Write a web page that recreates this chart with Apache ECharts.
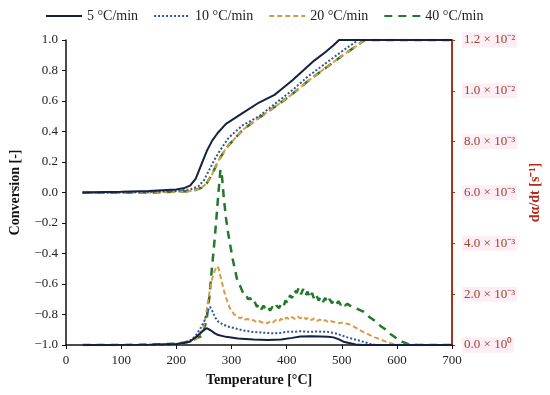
<!DOCTYPE html>
<html>
<head>
<meta charset="utf-8">
<script src="https://cdn.jsdelivr.net/npm/echarts@6/dist/echarts.min.js"></script>
<style>html,body{margin:0;padding:0;background:#fff}#c{width:550px;height:395px}</style>
</head>
<body>
<div id="c"></div>
<script>
// ---- Data ----
const seriesNames = ['5 °C/min', '10 °C/min', '20 °C/min', '40 °C/min'];
const xTicks = [0, 100, 200, 300, 400, 500, 600, 700];

// Conversion [-] (left axis)
const convT5  = [30, 100, 150, 200, 215, 225, 235, 245, 255, 265, 275, 290, 320, 350, 378, 390, 410, 430, 450, 470, 485, 495, 700];
const conv5   = [0.0, 0.005, 0.01, 0.02, 0.03, 0.045, 0.09, 0.18, 0.27, 0.34, 0.39, 0.45, 0.52, 0.59, 0.64, 0.675, 0.735, 0.80, 0.865, 0.92, 0.965, 1.0, 1.0];
const convT10 = [30, 100, 150, 200, 225, 240, 250, 260, 270, 280, 295, 320, 350, 380, 410, 440, 470, 500, 530, 700];
const conv10  = [0.0, 0.0, 0.005, 0.01, 0.02, 0.04, 0.08, 0.15, 0.22, 0.28, 0.36, 0.44, 0.50, 0.585, 0.67, 0.765, 0.845, 0.925, 1.0, 1.0];
const convT20 = [30, 100, 150, 200, 230, 245, 255, 265, 275, 290, 305, 320, 350, 380, 410, 440, 470, 500, 520, 542, 700];
const conv20  = [0.0, 0.0, 0.0, 0.005, 0.01, 0.03, 0.06, 0.12, 0.20, 0.29, 0.35, 0.41, 0.49, 0.565, 0.645, 0.735, 0.815, 0.895, 0.945, 1.0, 1.0];
const convT40 = [30, 100, 150, 200, 230, 245, 255, 265, 275, 290, 305, 320, 350, 380, 410, 440, 470, 500, 520, 542, 700];
const conv40  = [0.0, 0.0, 0.0, 0.005, 0.01, 0.03, 0.06, 0.12, 0.20, 0.29, 0.35, 0.41, 0.49, 0.565, 0.645, 0.735, 0.815, 0.895, 0.945, 1.0, 1.0];

// dα/dt [×10⁻³ s⁻¹] (right axis)
const rateT5 = [30, 150, 200, 215, 225, 240, 248, 255, 262, 270, 276, 290, 312, 340, 366, 390, 410, 425, 445, 461, 475, 485, 495, 503, 515, 525, 540, 700];
const rate5  = [0, 0.01, 0.04, 0.09, 0.14, 0.39, 0.55, 0.66, 0.58, 0.46, 0.39, 0.32, 0.26, 0.22, 0.20, 0.22, 0.28, 0.33, 0.34, 0.33, 0.32, 0.30, 0.22, 0.13, 0.07, 0.02, 0, 0];
const rateT10 = [30, 150, 200, 220, 234, 245, 252, 257, 261, 265, 270, 276, 285, 295, 306, 320, 336, 350, 365, 378, 390, 400, 412, 425, 440, 455, 473, 485, 497, 510, 527, 545, 555, 565, 700];
const rate10  = [0, 0, 0.02, 0.1, 0.33, 0.7, 1.0, 1.35, 1.5, 1.35, 1.1, 0.92, 0.8, 0.72, 0.66, 0.58, 0.52, 0.50, 0.47, 0.46, 0.48, 0.52, 0.52, 0.54, 0.52, 0.53, 0.52, 0.48, 0.40, 0.30, 0.20, 0.09, 0.02, 0, 0];
const rateT20 = [30, 150, 200, 230, 240, 249, 254, 258, 262, 266, 270, 274, 277, 280, 284, 288, 292, 296, 300, 305, 310, 315, 320, 325, 330, 335, 340, 345, 350, 355, 360, 365, 370, 375, 380, 385, 390, 395, 400, 405, 410, 415, 420, 425, 430, 435, 440, 445, 450, 455, 460, 465, 470, 475, 480, 485, 490, 495, 500, 505, 510, 515, 520, 530, 540, 550, 560, 570, 580, 590, 600, 700];
const rate20  = [0, 0, 0.03, 0.15, 0.3, 0.7, 1.2, 1.8, 2.3, 2.7, 2.95, 3.1, 3.0, 2.7, 2.35, 2.0, 1.75, 1.5, 1.35, 1.2, 1.15, 1.05, 1.1, 1.0, 1.02, 0.95, 0.98, 0.9, 0.95, 0.88, 0.92, 0.85, 0.93, 0.88, 0.98, 0.92, 1.03, 0.97, 1.08, 1.0, 1.1, 1.03, 1.12, 1.05, 1.12, 1.02, 1.08, 0.98, 1.05, 0.95, 1.0, 0.93, 0.98, 0.9, 0.95, 0.9, 0.92, 0.86, 0.88, 0.83, 0.84, 0.8, 0.75, 0.62, 0.5, 0.4, 0.3, 0.22, 0.13, 0.06, 0.01, 0];
const rateT40 = [30, 100, 150, 200, 215, 230, 240, 246, 250, 255, 260, 264, 268, 272, 276, 280, 283, 286, 290, 294, 298, 302, 306, 310, 314, 318, 322, 326, 330, 334, 338, 342, 346, 350, 354, 358, 362, 366, 370, 374, 378, 382, 386, 390, 394, 398, 402, 406, 410, 414, 418, 422, 426, 430, 434, 438, 442, 446, 450, 454, 458, 462, 466, 470, 474, 478, 482, 486, 490, 494, 498, 502, 506, 510, 515, 520, 525, 530, 540, 550, 560, 570, 580, 590, 600, 610, 620, 630, 700];
const rate40  = [0, 0, 0.02, 0.05, 0.1, 0.2, 0.3, 0.35, 0.6, 1.0, 1.9, 2.9, 3.8, 4.8, 5.9, 6.9, 6.6, 5.8, 5.0, 4.4, 3.9, 3.4, 3.0, 2.6, 2.4, 2.2, 2.0, 2.0, 1.8, 1.85, 1.65, 1.7, 1.5, 1.6, 1.4, 1.55, 1.4, 1.5, 1.35, 1.5, 1.4, 1.55, 1.45, 1.6, 1.5, 1.75, 1.65, 1.95, 1.85, 2.15, 2.05, 2.25, 2.0, 2.2, 1.95, 2.1, 1.85, 2.05, 1.8, 1.95, 1.75, 1.9, 1.7, 1.85, 1.65, 1.8, 1.65, 1.75, 1.6, 1.72, 1.58, 1.68, 1.55, 1.62, 1.55, 1.5, 1.45, 1.4, 1.3, 1.1, 0.95, 0.75, 0.6, 0.4, 0.25, 0.12, 0.04, 0, 0];

const rightTickLabels = {0: '0.0 × 10⁰', 2: '2.0 × 10⁻³', 4: '4.0 × 10⁻³', 6: '6.0 × 10⁻³', 8: '8.0 × 10⁻³', 10: '1.0 × 10⁻²', 12: '1.2 × 10⁻²'};

// ---- Build ----
const zip = (t, v) => t.map((x, i) => [x, v[i]]);
const colors = ['#14213F', '#2E5597', '#DA9A45', '#22782B'];
const styles = [
  {type: 'solid', width: 2},
  {type: 'dotted', width: 2},
  {type: [5, 3], width: 2},
  {type: [8, 6], width: 2.5}
];
const FONT = 'Liberation Serif';
const conv = [zip(convT5, conv5), zip(convT10, conv10), zip(convT20, conv20), zip(convT40, conv40)];
const rate = [zip(rateT5, rate5), zip(rateT10, rate10), zip(rateT20, rate20), zip(rateT40, rate40)];

const series = [];
const convZ = [6, 5, 4, 3];
// conversion curves
[0, 1, 2, 3].forEach(i => {
  series.push({
    name: seriesNames[i], type: 'line', yAxisIndex: 0, data: conv[i], showSymbol: false, symbol: 'none',
    lineStyle: Object.assign({color: colors[i]}, styles[i]), itemStyle: {color: colors[i]}, z: convZ[i]
  });
});
// rate curves
[0, 1, 2, 3].forEach(i => {
  series.push({
    name: seriesNames[i], type: 'line', yAxisIndex: 1, data: rate[i], showSymbol: false, symbol: 'none',
    lineStyle: Object.assign({color: colors[i]}, styles[i]), itemStyle: {color: colors[i]}, z: 6 - i
  });
});

const chart = echarts.init(document.getElementById('c'), null, {renderer: 'canvas'});
chart.setOption({
  animation: false,
  backgroundColor: '#fff',
  textStyle: {fontFamily: FONT},
  legend: {
    data: seriesNames, left: 40, top: 4, itemWidth: 36, itemHeight: 12, itemGap: 15,
    itemStyle: {opacity: 0},
    textStyle: {fontFamily: FONT, fontSize: 14, color: '#222'}
  },
  grid: {left: 63, right: 97, top: 40, bottom: 50},
  xAxis: {
    type: 'value', min: 0, max: 700, interval: 100,
    name: 'Temperature [°C]', nameLocation: 'middle', nameGap: 28,
    nameTextStyle: {fontFamily: FONT, fontSize: 14, fontWeight: 'bold', color: '#111'},
    axisLine: {show: true, onZero: false, lineStyle: {color: '#111', width: 1.5}},
    axisTick: {show: true, length: 4, lineStyle: {color: '#111'}},
    axisLabel: {fontFamily: FONT, fontSize: 13, color: '#222', margin: 9,
      formatter: v => xTicks.includes(v) ? String(v) : ''},
    splitLine: {show: false}
  },
  yAxis: [{
    type: 'value', min: -1, max: 1, interval: 0.2, position: 'left',
    name: 'Conversion [-]', nameLocation: 'middle', nameGap: 44, nameRotate: 90,
    nameTextStyle: {fontFamily: FONT, fontSize: 14, fontWeight: 'bold', color: '#111'},
    axisLine: {show: true, onZero: false, lineStyle: {color: '#111', width: 1.5}},
    axisTick: {show: true, length: 4, lineStyle: {color: '#111'}},
    axisLabel: {fontFamily: FONT, fontSize: 13, color: '#222', margin: 8,
      formatter: v => v.toFixed(1).replace('-', '−')},
    splitLine: {show: false}
  }, {
    type: 'value', min: 0, max: 12, interval: 2, position: 'right',
    name: 'dα/dt [s⁻¹]', nameLocation: 'middle', nameGap: 45, nameRotate: 90,
    nameTextStyle: {fontFamily: FONT, fontSize: 14, fontWeight: 'bold', color: '#B52A1C'},
    axisLine: {show: true, onZero: false, lineStyle: {color: '#A3361A', width: 2}},
    axisTick: {show: true, length: 3, lineStyle: {color: '#A3361A'}},
    axisLabel: {fontFamily: FONT, fontSize: 13, color: '#9A4632', margin: 10,
      backgroundColor: '#FCEEF4', padding: [1, 2],
      formatter: v => rightTickLabels[Math.round(v)] || ''},
    splitLine: {show: false}
  }],
  series: series
});
</script>
</body>
</html>
